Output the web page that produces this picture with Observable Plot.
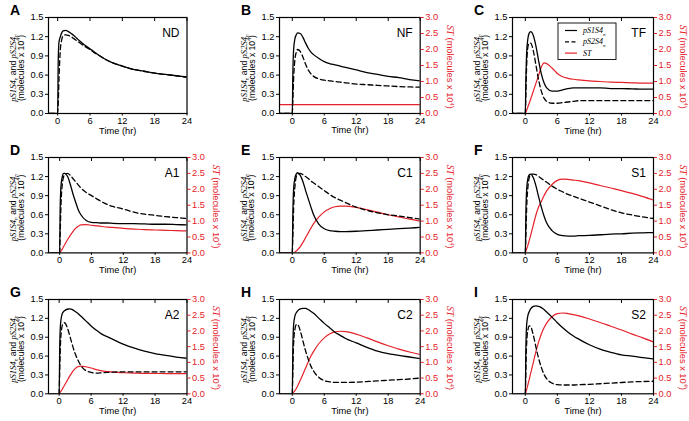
<!DOCTYPE html>
<html><head><meta charset="utf-8">
<script src="https://cdn.jsdelivr.net/npm/d3@7"></script>
<script src="https://cdn.jsdelivr.net/npm/@observablehq/plot@0.6"></script>
<style>
html,body{margin:0;padding:0;background:#fff;}
#chart{position:relative;width:689px;height:421px;overflow:hidden;background:#fff;}
#chart svg{position:absolute;overflow:visible;}
</style></head><body><div id="chart"></div>
<script>
// time points (hr)
const T = [-3, 0, 0.1, 0.25, 0.5, 0.75, 1, 1.5, 2, 2.5, 3, 3.5, 4, 5, 6, 7, 8, 9, 10, 12, 14, 16, 18, 20, 22, 24];
const xTicks = [0, 6, 12, 18, 24];
const leftTicks = [0, 0.3, 0.6, 0.9, 1.2, 1.5];
const rightTicks = [0, 0.5, 1.0, 1.5, 2.0, 2.5, 3.0];

// pS1S4n (solid), pS2S4n (dashed) in 1e4 molecules (left axis); ST in 1e4 molecules (right axis)
const ndS1 = [0,0,0.8,1.12,1.2,1.26,1.29,1.30,1.28,1.25,1.22,1.18,1.14,1.07,1.01,0.95,0.89,0.84,0.80,0.74,0.69,0.66,0.63,0.61,0.59,0.57];
const ndS2 = [0,0,0.15,0.55,1.0,1.15,1.21,1.23,1.22,1.2,1.17,1.14,1.11,1.05,1.0,0.94,0.89,0.84,0.8,0.74,0.69,0.66,0.63,0.61,0.59,0.565];

const nfS1 = [0,0,0.6,1.0,1.17,1.23,1.26,1.25,1.19,1.1,1.02,0.96,0.92,0.86,0.81,0.78,0.76,0.74,0.72,0.68,0.64,0.61,0.58,0.56,0.53,0.51];
const nfS2 = [0,0,0.2,0.55,0.85,0.96,1.0,0.97,0.88,0.77,0.68,0.62,0.58,0.54,0.52,0.51,0.5,0.49,0.48,0.46,0.45,0.44,0.43,0.42,0.415,0.41];
const nfST = [0.28,0.28,0.28,0.28,0.28,0.28,0.28,0.28,0.28,0.28,0.28,0.28,0.28,0.28,0.28,0.28,0.28,0.28,0.28,0.28,0.28,0.28,0.28,0.28,0.28,0.28];

const tfS1 = [0,0,0.5,0.95,1.18,1.26,1.28,1.22,1.05,0.82,0.62,0.48,0.4,0.35,0.35,0.37,0.39,0.4,0.4,0.4,0.4,0.39,0.39,0.385,0.38,0.38];
const tfS2 = [0,0,0.3,0.75,1.05,1.1,1.1,0.98,0.75,0.52,0.35,0.24,0.19,0.16,0.16,0.17,0.18,0.19,0.2,0.2,0.2,0.2,0.2,0.2,0.2,0.2];
const tfST = [0,0,0.04,0.1,0.22,0.33,0.45,0.7,0.95,1.2,1.45,1.58,1.56,1.42,1.25,1.15,1.1,1.07,1.05,1.02,1.0,0.98,0.97,0.96,0.95,0.95];

const a1S1 = [0,0,0.7,1.05,1.2,1.25,1.25,1.2,1.08,0.93,0.8,0.68,0.6,0.51,0.48,0.475,0.47,0.47,0.465,0.46,0.46,0.455,0.45,0.45,0.445,0.44];
const a1S2 = [0,0,0.3,0.75,1.08,1.2,1.24,1.25,1.22,1.17,1.12,1.07,1.02,0.95,0.9,0.85,0.8,0.76,0.73,0.69,0.64,0.61,0.59,0.57,0.555,0.54];
const a1ST = [0,0,0.02,0.06,0.12,0.2,0.27,0.42,0.55,0.67,0.77,0.84,0.88,0.89,0.87,0.85,0.83,0.81,0.8,0.77,0.75,0.73,0.72,0.71,0.7,0.69];

const c1S1 = [0,0,0.6,1.0,1.18,1.24,1.26,1.22,1.12,0.98,0.85,0.72,0.6,0.45,0.38,0.35,0.34,0.335,0.335,0.34,0.35,0.36,0.37,0.38,0.39,0.4];
const c1S2 = [0,0,0.25,0.7,1.05,1.2,1.24,1.25,1.23,1.2,1.17,1.13,1.1,1.04,0.98,0.92,0.87,0.83,0.79,0.72,0.67,0.63,0.6,0.58,0.555,0.53];
const c1ST = [0,0,0,0.01,0.03,0.06,0.1,0.2,0.33,0.48,0.63,0.78,0.92,1.13,1.29,1.39,1.45,1.47,1.47,1.43,1.36,1.28,1.2,1.13,1.06,1.0];

const s1S1 = [0,0,0.6,1.0,1.18,1.23,1.24,1.18,1.05,0.88,0.72,0.58,0.47,0.35,0.29,0.27,0.265,0.265,0.27,0.275,0.285,0.295,0.3,0.31,0.315,0.32];
const s1S2 = [0,0,0.25,0.7,1.05,1.19,1.23,1.24,1.23,1.2,1.17,1.14,1.11,1.05,1.0,0.96,0.92,0.89,0.86,0.8,0.74,0.68,0.63,0.595,0.565,0.54];
const s1ST = [0,0,0.05,0.13,0.25,0.4,0.55,0.88,1.2,1.45,1.62,1.8,1.95,2.15,2.28,2.32,2.31,2.29,2.27,2.2,2.12,2.04,1.96,1.87,1.77,1.66];

const a2S1 = [0,0,0.7,1.1,1.25,1.3,1.32,1.345,1.35,1.34,1.31,1.28,1.24,1.16,1.08,1.01,0.95,0.91,0.87,0.79,0.73,0.68,0.64,0.61,0.585,0.565];
const a2S2 = [0,0,0.35,0.8,1.05,1.12,1.13,1.06,0.92,0.77,0.64,0.54,0.46,0.37,0.34,0.33,0.335,0.34,0.345,0.35,0.35,0.35,0.35,0.35,0.35,0.35];
const a2ST = [0,0,0.02,0.06,0.12,0.2,0.27,0.42,0.57,0.7,0.8,0.86,0.88,0.86,0.82,0.77,0.73,0.71,0.69,0.67,0.66,0.65,0.65,0.64,0.64,0.64];

const c2S1 = [0,0,0.7,1.1,1.24,1.29,1.32,1.35,1.36,1.36,1.34,1.31,1.28,1.2,1.12,1.05,0.98,0.93,0.88,0.81,0.74,0.68,0.64,0.61,0.585,0.56];
const c2S2 = [0,0,0.35,0.8,1.03,1.1,1.1,1.0,0.84,0.68,0.55,0.44,0.36,0.26,0.21,0.19,0.18,0.18,0.18,0.185,0.195,0.205,0.215,0.225,0.235,0.25];
const c2ST = [0,0,0.02,0.05,0.1,0.17,0.25,0.43,0.62,0.82,1.02,1.2,1.35,1.6,1.78,1.9,1.97,1.99,1.98,1.9,1.78,1.65,1.53,1.42,1.33,1.25];

const s2S1 = [0,0,0.7,1.1,1.25,1.31,1.35,1.39,1.4,1.39,1.37,1.34,1.3,1.22,1.13,1.05,0.98,0.92,0.87,0.78,0.71,0.66,0.62,0.6,0.575,0.555];
const s2S2 = [0,0,0.35,0.8,1.02,1.08,1.07,0.93,0.74,0.56,0.42,0.31,0.24,0.17,0.145,0.14,0.14,0.14,0.145,0.15,0.16,0.17,0.18,0.19,0.195,0.2];
const s2ST = [0,0,0.05,0.14,0.3,0.47,0.65,1.0,1.35,1.65,1.9,2.1,2.25,2.45,2.55,2.57,2.55,2.52,2.48,2.38,2.27,2.15,2.03,1.9,1.78,1.65];

const letters = ["A","B","C","D","E","F","G","H","I"];
const names = ["ND","NF","TF","A1","C1","S1","A2","C2","S2"];
const seriesS1 = [ndS1,nfS1,tfS1,a1S1,c1S1,s1S1,a2S1,c2S1,s2S1];
const seriesS2 = [ndS2,nfS2,tfS2,a1S2,c1S2,s1S2,a2S2,c2S2,s2S2];
const seriesST = [null,nfST,tfST,a1ST,c1ST,s1ST,a2ST,c2ST,s2ST];

// layout
const cols = [{fx:48, fw:138.5}, {fx:279.3, fw:140.7}, {fx:512.3, fw:141}];
const rows = [{fy:17.3, fh:96}, {fy:157.3, fh:95.4}, {fy:299, fh:94.3}];
const xStart = [-1.7,-2.4,-2.4,-2.1,-2.4,-2.4,-2.0,-2.4,-2.4];
const RED = "#e5212a";
const SANS = "'Liberation Sans', Arial, Helvetica, sans-serif";
const SERIF = "'Liberation Serif', 'Times New Roman', serif";
const ML = 50, MR = 45, MT = 20, MB = 24;

function rich(text, parts, fs) {
  let shift = 0;
  parts.forEach(p => {
    const ts = text.append("tspan").text(p.t);
    const target = p.sub ? fs*0.3 : p.sup ? -fs*0.4 : 0;
    if (target !== shift) { ts.attr("dy", target - shift); shift = target; }
    if (p.sub || p.sup) ts.attr("font-size", fs*0.62);
    if (p.it) ts.attr("font-style","italic").attr("font-family", SERIF);
  });
}

const chart = document.getElementById("chart");

for (let k = 0; k < 9; k++) {
  const c = cols[k % 3], r = rows[Math.floor(k / 3)];
  const st = seriesST[k];
  const data = T.map((t, i) => ({t, s1: seriesS1[k][i], s2: seriesS2[k][i], st: st ? st[i] : null}));
  const marks = [];
  if (st) marks.push(Plot.line(data, {x:"t", y: d => d.st / 2, stroke: RED, strokeWidth: 1.2, curve: "monotone-x", clip: true}));
  marks.push(Plot.line(data, {x:"t", y:"s2", stroke:"black", strokeWidth:1.3, strokeDasharray:"5,3", curve:"monotone-x", clip:true}));
  marks.push(Plot.line(data, {x:"t", y:"s1", stroke:"black", strokeWidth:1.3, curve:"monotone-x", clip:true}));
  marks.push(Plot.frame({stroke:"black", strokeWidth:1.2}));
  marks.push(Plot.axisX({ticks:xTicks, tickSize:2.5, tickPadding:1, label:"Time (hr)", labelAnchor:"center", labelArrow:"none", labelOffset:20}));
  marks.push(Plot.axisX({anchor:"top", ticks:xTicks, tickSize:3, tickFormat:() => "", label:null, dy:3}));
  marks.push(Plot.axisY({ticks:leftTicks, tickSize:3, tickPadding:2, tickFormat: d => d.toFixed(1), label:null}));
  if (st) marks.push(Plot.axisY({anchor:"right", ticks: rightTicks.map(v => v / 2), tickSize:3, tickPadding:2, tickFormat: d => (d*2).toFixed(1), label:null, color: RED}));
  const svg = Plot.plot({
    width: c.fw + ML + MR, height: r.fh + MT + MB,
    marginLeft: ML, marginRight: MR, marginTop: MT, marginBottom: MB,
    x: {domain: [xStart[k], 24]},
    y: {domain: [0, 1.5]},
    style: {background:"transparent", overflow:"visible", fontFamily: SANS, fontSize:"9.3px", color:"black"},
    marks
  });
  svg.style.left = (c.fx - ML) + "px";
  svg.style.top = (r.fy - MT) + "px";
  chart.appendChild(svg);

  const s = d3.select(svg);
  // panel letter
  s.append("text").attr("x", ML - 38).attr("y", MT - 2).attr("text-anchor", "start").attr("font-family", SANS)
    .attr("font-weight", "bold").attr("font-size", 14).text(letters[k]);
  // panel name
  s.append("text").attr("x", ML + c.fw - 7).attr("y", MT + 20).attr("text-anchor", "end")
    .attr("font-family", SANS).attr("font-size", 12).text(names[k]);
  // left y label
  const cy = MT + r.fh / 2 + 3;
  const l1 = s.append("text").attr("transform", `translate(${ML - 32.5},${cy}) rotate(-90)`)
    .attr("text-anchor", "middle").attr("font-family", SANS).attr("font-size", 8.6);
  rich(l1, [{t:"pS1S4", it:true}, {t:"n", it:true, sub:true}, {t:" and "}, {t:"pS2S4", it:true}, {t:"n", it:true, sub:true}], 8.6);
  const l2 = s.append("text").attr("transform", `translate(${ML - 24.5},${cy}) rotate(-90)`)
    .attr("text-anchor", "middle").attr("font-family", SANS).attr("font-size", 8.6);
  rich(l2, [{t:"(molecules x 10"}, {t:"4", sup:true}, {t:")"}], 8.6);
  // right label
  if (st) {
    const rl = s.append("text").attr("transform", `translate(${ML + c.fw + 27},${MT + r.fh / 2 + 2}) rotate(90)`)
      .attr("text-anchor", "middle").attr("font-family", SANS).attr("font-size", 9.3).attr("fill", RED);
    rich(rl, [{t:"ST", it:true}, {t:" (molecules x 10"}, {t:"4", sup:true}, {t:")"}], 9.3);
  }
  // legend (panel C)
  if (k === 2) {
    const g = s.append("g").attr("transform", `translate(${ML + 46},${MT + 6})`);
    g.append("rect").attr("width", 58).attr("height", 36.5).attr("fill", "white").attr("stroke", "black").attr("stroke-width", 0.9);
    const items = [{lab:[{t:"pS1S4", it:true},{t:"n", it:true, sub:true}], stroke:"black", dash:null},
                   {lab:[{t:"pS2S4", it:true},{t:"n", it:true, sub:true}], stroke:"black", dash:"4,2.5"},
                   {lab:[{t:"ST", it:true}], stroke:RED, dash:null}];
    items.forEach((it, i) => {
      const y = 7.5 + i * 11.3;
      g.append("line").attr("x1", 7).attr("x2", 19).attr("y1", y).attr("y2", y)
        .attr("stroke", it.stroke).attr("stroke-width", 1.2).attr("stroke-dasharray", it.dash);
      const tx = g.append("text").attr("x", 25).attr("y", y + 2.6).attr("text-anchor", "start")
        .attr("font-size", 8).attr("font-family", SERIF);
      rich(tx, it.lab, 8);
    });
  }
}
</script></body></html>
